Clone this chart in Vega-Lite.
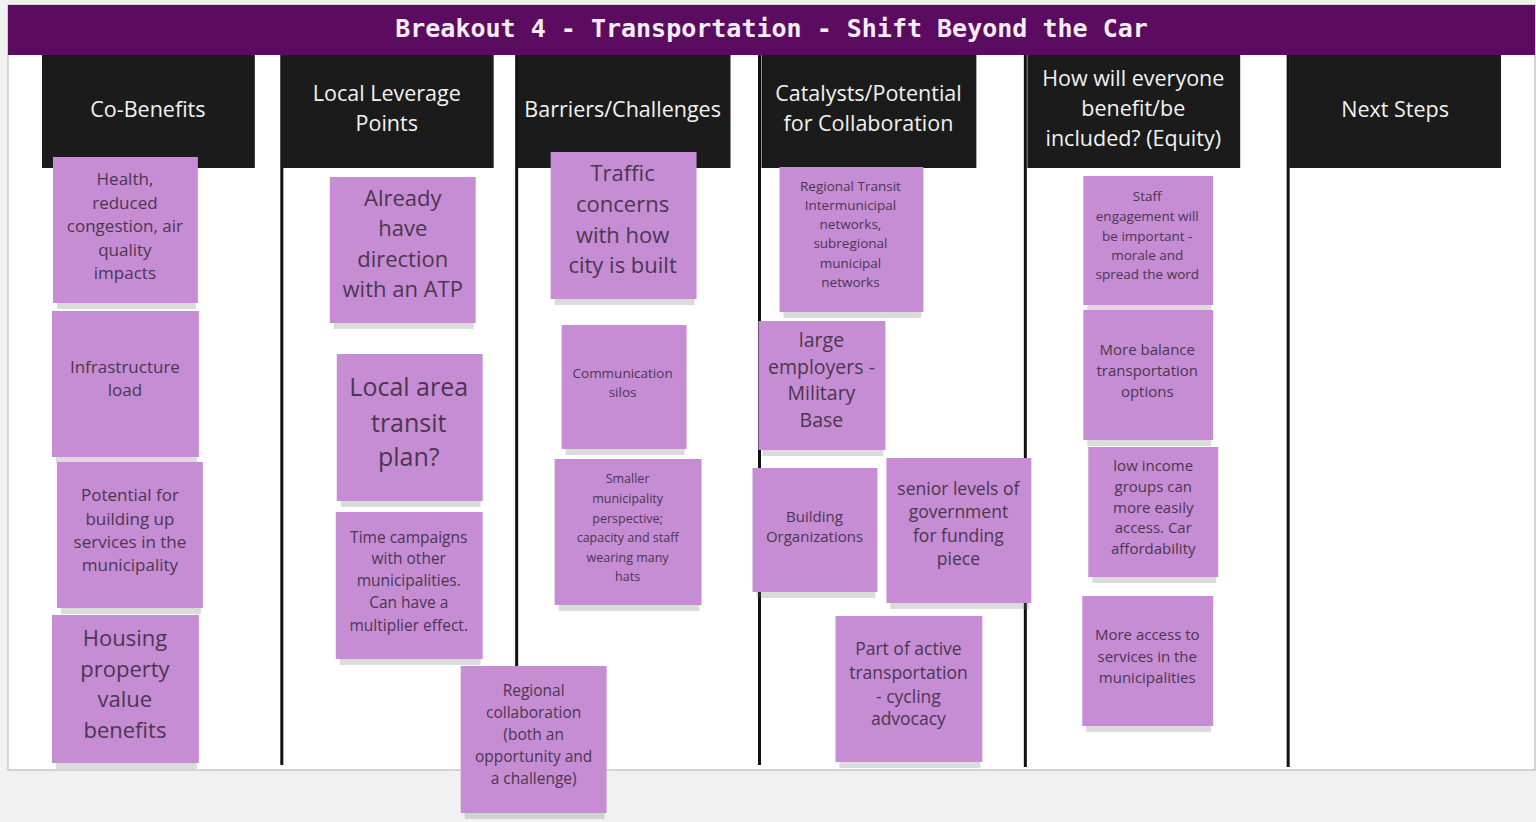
{
  "$schema": "https://vega.github.io/schema/vega-lite/v6.json",
  "width": 1536,
  "height": 822,
  "autosize": {"type": "fit", "contains": "padding"},
  "padding": 0,
  "background": "#f1f1f1",
  "config": {"view": {"stroke": null}},
  "datasets": {
    "board": [{"x": 8, "x2": 1536, "y": 5, "y2": 770}],
    "titlebar": [{"x": 8, "x2": 1536, "y": 5, "y2": 55, "cx": 772, "cy": 29, "t": "Breakout 4 - Transportation - Shift Beyond the Car"}],
    "dividers": [
      {"x": 282, "y": 55, "y2": 765},
      {"x": 517, "y": 55, "y2": 765},
      {"x": 760, "y": 55, "y2": 765},
      {"x": 1026, "y": 55, "y2": 767},
      {"x": 1289, "y": 55, "y2": 767}
    ],
    "headers": [
      {"x": 42, "x2": 255, "y": 55, "y2": 168},
      {"x": 281, "x2": 494, "y": 55, "y2": 168},
      {"x": 518, "x2": 731, "y": 55, "y2": 168},
      {"x": 762, "x2": 977, "y": 55, "y2": 168},
      {"x": 1028, "x2": 1241, "y": 55, "y2": 168},
      {"x": 1290, "x2": 1502, "y": 55, "y2": 168}
    ],
    "headerText": [
      {"x": 148, "y": 111, "t": "Co-Benefits"},
      {"x": 387, "y": 95, "t": "Local Leverage"},
      {"x": 387, "y": 125, "t": "Points"},
      {"x": 623, "y": 111, "t": "Barriers/Challenges"},
      {"x": 869, "y": 95, "t": "Catalysts/Potential"},
      {"x": 869, "y": 125, "t": "for Collaboration"},
      {"x": 1134, "y": 80, "t": "How will everyone"},
      {"x": 1134, "y": 110, "t": "benefit/be"},
      {"x": 1134, "y": 140, "t": "included?  (Equity)"},
      {"x": 1396, "y": 111, "t": "Next Steps"}
    ],
    "notes": [
      {"x": 53, "x2": 198, "y": 157, "y2": 303},
      {"x": 52, "x2": 199, "y": 311, "y2": 457},
      {"x": 57, "x2": 203, "y": 462, "y2": 608},
      {"x": 52, "x2": 199, "y": 615, "y2": 763},
      {"x": 330, "x2": 476, "y": 177, "y2": 323},
      {"x": 337, "x2": 483, "y": 354, "y2": 501},
      {"x": 336, "x2": 483, "y": 512, "y2": 659},
      {"x": 551, "x2": 697, "y": 152, "y2": 299},
      {"x": 562, "x2": 687, "y": 325, "y2": 449},
      {"x": 555, "x2": 702, "y": 459, "y2": 605},
      {"x": 461, "x2": 607, "y": 666, "y2": 813},
      {"x": 780, "x2": 924, "y": 167, "y2": 312},
      {"x": 759, "x2": 886, "y": 321, "y2": 450},
      {"x": 753, "x2": 878, "y": 468, "y2": 592},
      {"x": 887, "x2": 1032, "y": 458, "y2": 603},
      {"x": 836, "x2": 983, "y": 616, "y2": 762},
      {"x": 1084, "x2": 1214, "y": 176, "y2": 305},
      {"x": 1084, "x2": 1214, "y": 310, "y2": 440},
      {"x": 1089, "x2": 1219, "y": 447, "y2": 577},
      {"x": 1083, "x2": 1214, "y": 596, "y2": 726}
    ],
    "noteText": [
      {"x": 125, "y": 180, "t": "Health,", "tier": "te"},
      {"x": 125, "y": 204, "t": "reduced", "tier": "te"},
      {"x": 125, "y": 227, "t": "congestion, air", "tier": "te"},
      {"x": 125, "y": 251, "t": "quality", "tier": "te"},
      {"x": 125, "y": 274, "t": "impacts", "tier": "te"},
      {"x": 125, "y": 368, "t": "Infrastructure", "tier": "te"},
      {"x": 125, "y": 391, "t": "load", "tier": "te"},
      {"x": 130, "y": 496, "t": "Potential for", "tier": "te"},
      {"x": 130, "y": 520, "t": "building up", "tier": "te"},
      {"x": 130, "y": 543, "t": "services in the", "tier": "te"},
      {"x": 130, "y": 566, "t": "municipality", "tier": "te"},
      {"x": 125, "y": 639, "t": "Housing", "tier": "th"},
      {"x": 125, "y": 670, "t": "property", "tier": "th"},
      {"x": 125, "y": 700, "t": "value", "tier": "th"},
      {"x": 125, "y": 731, "t": "benefits", "tier": "th"},
      {"x": 403, "y": 199, "t": "Already", "tier": "th"},
      {"x": 403, "y": 229, "t": "have", "tier": "th"},
      {"x": 403, "y": 260, "t": "direction", "tier": "th"},
      {"x": 403, "y": 290, "t": "with an ATP", "tier": "th"},
      {"x": 409, "y": 388, "t": "Local area", "tier": "ti"},
      {"x": 409, "y": 424, "t": "transit", "tier": "ti"},
      {"x": 409, "y": 458, "t": "plan?", "tier": "ti"},
      {"x": 409, "y": 538, "t": "Time campaigns", "tier": "td"},
      {"x": 409, "y": 559, "t": "with other", "tier": "td"},
      {"x": 409, "y": 581, "t": "municipalities.", "tier": "td"},
      {"x": 409, "y": 603, "t": "Can have a", "tier": "td"},
      {"x": 409, "y": 626, "t": "multiplier effect.", "tier": "td"},
      {"x": 623, "y": 174, "t": "Traffic", "tier": "th"},
      {"x": 623, "y": 205, "t": "concerns", "tier": "th"},
      {"x": 623, "y": 236, "t": "with how", "tier": "th"},
      {"x": 623, "y": 266, "t": "city is built", "tier": "th"},
      {"x": 623, "y": 374, "t": "Communication", "tier": "ta"},
      {"x": 623, "y": 393, "t": "silos", "tier": "ta"},
      {"x": 628, "y": 479, "t": "Smaller", "tier": "tb"},
      {"x": 628, "y": 499, "t": "municipality", "tier": "tb"},
      {"x": 628, "y": 519, "t": "perspective;", "tier": "tb"},
      {"x": 628, "y": 538, "t": "capacity and staff", "tier": "tb"},
      {"x": 628, "y": 558, "t": "wearing many", "tier": "tb"},
      {"x": 628, "y": 577, "t": "hats", "tier": "tb"},
      {"x": 534, "y": 691, "t": "Regional", "tier": "td"},
      {"x": 534, "y": 713, "t": "collaboration", "tier": "td"},
      {"x": 534, "y": 735, "t": "(both an", "tier": "td"},
      {"x": 534, "y": 757, "t": "opportunity and", "tier": "td"},
      {"x": 534, "y": 779, "t": "a challenge)", "tier": "td"},
      {"x": 851, "y": 187, "t": "Regional Transit", "tier": "ta"},
      {"x": 851, "y": 206, "t": "Intermunicipal", "tier": "ta"},
      {"x": 851, "y": 225, "t": "networks,", "tier": "ta"},
      {"x": 851, "y": 244, "t": "subregional", "tier": "ta"},
      {"x": 851, "y": 264, "t": "municipal", "tier": "ta"},
      {"x": 851, "y": 283, "t": "networks", "tier": "ta"},
      {"x": 822, "y": 341, "t": "large", "tier": "tg"},
      {"x": 822, "y": 368, "t": "employers -", "tier": "tg"},
      {"x": 822, "y": 394, "t": "Military", "tier": "tg"},
      {"x": 822, "y": 421, "t": "Base", "tier": "tg"},
      {"x": 815, "y": 517, "t": "Building", "tier": "tc"},
      {"x": 815, "y": 537, "t": "Organizations", "tier": "tc"},
      {"x": 959, "y": 490, "t": "senior levels of", "tier": "tf"},
      {"x": 959, "y": 513, "t": "government", "tier": "tf"},
      {"x": 959, "y": 537, "t": "for funding", "tier": "tf"},
      {"x": 959, "y": 560, "t": "piece", "tier": "tf"},
      {"x": 909, "y": 650, "t": "Part of active", "tier": "tf"},
      {"x": 909, "y": 674, "t": "transportation", "tier": "tf"},
      {"x": 909, "y": 698, "t": "- cycling", "tier": "tf"},
      {"x": 909, "y": 720, "t": "advocacy", "tier": "tf"},
      {"x": 1148, "y": 197, "t": "Staff", "tier": "ta"},
      {"x": 1148, "y": 217, "t": "engagement will", "tier": "ta"},
      {"x": 1148, "y": 237, "t": "be important -", "tier": "ta"},
      {"x": 1148, "y": 256, "t": "morale and", "tier": "ta"},
      {"x": 1148, "y": 275, "t": "spread the word", "tier": "ta"},
      {"x": 1148, "y": 350, "t": "More balance", "tier": "tc"},
      {"x": 1148, "y": 371, "t": "transportation", "tier": "tc"},
      {"x": 1148, "y": 392, "t": "options", "tier": "tc"},
      {"x": 1154, "y": 466, "t": "low income", "tier": "tc"},
      {"x": 1154, "y": 487, "t": "groups can", "tier": "tc"},
      {"x": 1154, "y": 508, "t": "more easily", "tier": "tc"},
      {"x": 1154, "y": 528, "t": "access. Car", "tier": "tc"},
      {"x": 1154, "y": 549, "t": "affordability", "tier": "tc"},
      {"x": 1148, "y": 635, "t": "More access to", "tier": "tc"},
      {"x": 1148, "y": 657, "t": "services in the", "tier": "tc"},
      {"x": 1148, "y": 678, "t": "municipalities", "tier": "tc"}
    ]
  },
  "layer": [
    {
      "data": {"name": "board"},
      "mark": {"type": "rect", "fill": "#ffffff", "stroke": "#c8c8c8", "strokeWidth": 1.5},
      "encoding": {
        "x": {"field": "x", "type": "quantitative", "scale": {"domain": [0, 1536], "nice": false, "zero": false}, "axis": null},
        "x2": {"field": "x2"},
        "y": {"field": "y", "type": "quantitative", "scale": {"domain": [0, 822], "nice": false, "zero": false, "reverse": true}, "axis": null},
        "y2": {"field": "y2"}
      }
    },
    {
      "data": {"name": "titlebar"},
      "mark": {"type": "rect", "fill": "#5b0c61"},
      "encoding": {
        "x": {"field": "x", "type": "quantitative", "axis": null},
        "x2": {"field": "x2"},
        "y": {"field": "y", "type": "quantitative", "axis": null},
        "y2": {"field": "y2"}
      }
    },
    {
      "data": {"name": "titlebar"},
      "mark": {"type": "text", "font": "DejaVu Sans Mono", "fontWeight": "bold", "fontSize": 25, "color": "#f4eef4", "align": "center", "baseline": "middle"},
      "encoding": {
        "x": {"field": "cx", "type": "quantitative", "axis": null},
        "y": {"field": "cy", "type": "quantitative", "axis": null},
        "text": {"field": "t"}
      }
    },
    {
      "data": {"name": "dividers"},
      "mark": {"type": "rule", "color": "#111111", "strokeWidth": 3},
      "encoding": {
        "x": {"field": "x", "type": "quantitative", "axis": null},
        "y": {"field": "y", "type": "quantitative", "axis": null},
        "y2": {"field": "y2"}
      }
    },
    {
      "data": {"name": "headers"},
      "mark": {"type": "rect", "fill": "#1b1b1b"},
      "encoding": {
        "x": {"field": "x", "type": "quantitative", "axis": null},
        "x2": {"field": "x2"},
        "y": {"field": "y", "type": "quantitative", "axis": null},
        "y2": {"field": "y2"}
      }
    },
    {
      "data": {"name": "headerText"},
      "mark": {"type": "text", "font": "Open Sans", "fontSize": 21.5, "color": "#f2f2f2", "align": "center", "baseline": "middle"},
      "encoding": {
        "x": {"field": "x", "type": "quantitative", "axis": null},
        "y": {"field": "y", "type": "quantitative", "axis": null},
        "text": {"field": "t"}
      }
    },
    {
      "data": {"name": "notes"},
      "mark": {"type": "rect", "fill": "#707070", "opacity": 0.25, "yOffset": 3, "y2Offset": 6, "xOffset": 4, "x2Offset": -2},
      "encoding": {
        "x": {"field": "x", "type": "quantitative", "axis": null},
        "x2": {"field": "x2"},
        "y": {"field": "y", "type": "quantitative", "axis": null},
        "y2": {"field": "y2"}
      }
    },
    {
      "data": {"name": "notes"},
      "mark": {"type": "rect", "fill": "#c68dd4"},
      "encoding": {
        "x": {"field": "x", "type": "quantitative", "axis": null},
        "x2": {"field": "x2"},
        "y": {"field": "y", "type": "quantitative", "axis": null},
        "y2": {"field": "y2"}
      }
    },
    {
      "data": {"name": "noteText"},
      "mark": {"type": "text", "font": "Open Sans", "color": "#4a374f", "align": "center", "baseline": "middle"},
      "encoding": {
        "x": {"field": "x", "type": "quantitative", "axis": null},
        "y": {"field": "y", "type": "quantitative", "axis": null},
        "text": {"field": "t"},
        "size": {
          "field": "tier",
          "type": "nominal",
          "scale": {
            "type": "ordinal",
            "domain": ["ta", "tb", "tc", "td", "te", "tf", "tg", "th", "ti"],
            "range": [13.5, 12.5, 15, 15.5, 17, 17.5, 19.5, 22, 25]
          },
          "legend": null
        }
      }
    }
  ]
}
